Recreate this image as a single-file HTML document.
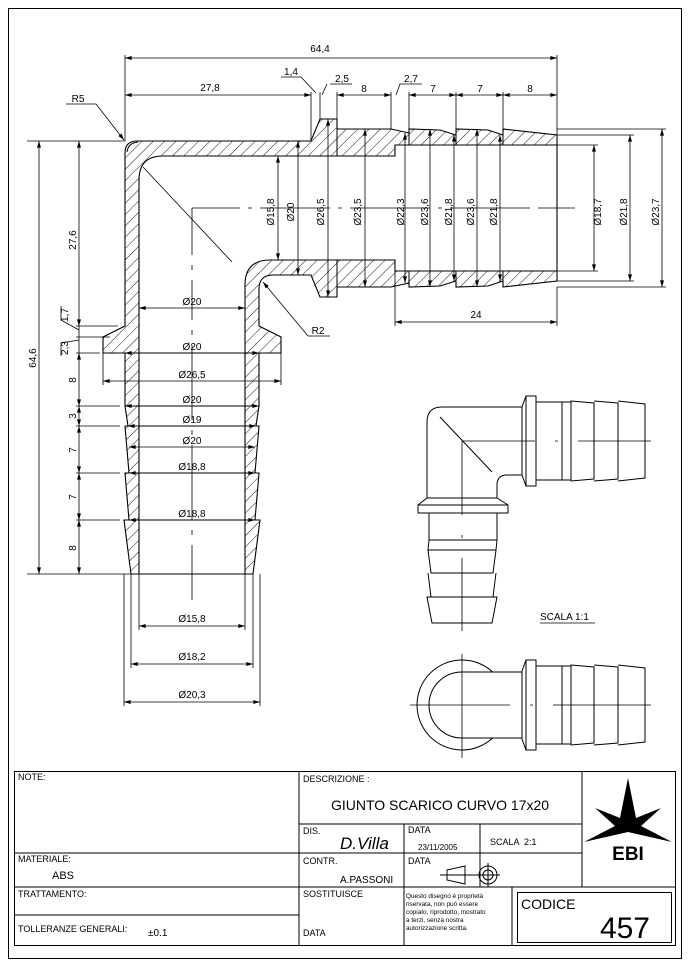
<!DOCTYPE html>
<html><head><meta charset="utf-8"><style>
html,body{margin:0;padding:0;background:#fff}
svg{display:block}
text{font-family:"Liberation Sans",sans-serif;fill:#000}
</style></head><body>
<svg width="690" height="969" viewBox="0 0 690 969" xmlns="http://www.w3.org/2000/svg">
<defs>
<pattern id="h" patternUnits="userSpaceOnUse" width="8" height="8" patternTransform="rotate(45)">
<line x1="0" y1="0" x2="0" y2="8" stroke="#000" stroke-width="0.9"/>
</pattern>
<marker id="a" viewBox="0 0 10 6" refX="10" refY="3" markerWidth="7" markerHeight="4" orient="auto-start-reverse" markerUnits="userSpaceOnUse">
<path d="M0,0 L10,3 L0,6 Z" fill="#000"/>
</marker>
</defs>
<rect width="690" height="969" fill="#fff"/>
<rect x="8.5" y="8.5" width="673" height="950" fill="none" stroke="#000" stroke-width="1"/>

<path fill="url(#h)" fill-rule="evenodd" stroke="#000" stroke-width="1.1" d="
M125,153 Q125,141 137,141 L311,141 L320,119 L337,119 L337,129 L391,129 L409,133 L409,129 L440,130 L456,135 L456,129 L488,130 L503,135 L503,129 L557,135 L557,281 L503,287 L503,281 L488,286 L456,287 L456,281 L440,286 L409,287 L409,283 L391,287 L337,287 L337,297 L320,297 L311,275 L273,275 Q259,275 259,289 L259,326 L281,337 L281,353 L259,353 L259,406 L256,426 L259,426 L255,473 L259,473 L255,520 L260,520 L253,574 L131,574 L124,520 L129,520 L125,473 L129,473 L125,426 L128,426 L125,406 L125,353 L103,353 L103,337 L125,326 Z
M139,574 L139,180 Q139,156 163,156 L395,156 L395,145 L557,145 L557,271 L395,271 L395,260 L270,260 Q245,260 245,285 L245,574 Z"/>
<g stroke="#000" stroke-width="1" fill="none">
<path d="M409,129V145 M456,129V145 M503,129V145 M409,271V287 M456,271V287 M503,271V287 M337,129V156 M337,260V287"/>
<path d="M125,406H259 M125,426H259 M129,473H255 M129,520H255 M125,353H259"/>
<path d="M127,152 Q128,143 138,142" />
</g>
<g stroke="#000" stroke-width="0.8" fill="none">
<path d="M192,208H240 M248,208H252 M260,208H330 M338,208H342 M350,208H430 M438,208H442 M450,208H530 M538,208H575"/>
<path d="M192,208V255 M192,265V270 M192,280V320 M192,330V335 M192,345V420 M192,430V435 M192,445V520 M192,530V535 M192,545V600"/>
<path d="M143,167 L232,262"/>
</g>

<g stroke="#000" stroke-width="0.8" fill="none">
<path d="M125,55V141 M557,55V135 M311,92V141 M320,92V119 M337,92V119 M391,92V129 M409,92V129 M456,92V129 M503,92V129"/>
<path d="M125,58H557" marker-start="url(#a)" marker-end="url(#a)"/>
<path d="M125,95H311" marker-start="url(#a)" marker-end="url(#a)"/>
<path d="M337,95H391" marker-start="url(#a)" marker-end="url(#a)"/>
<path d="M409,95H456" marker-start="url(#a)" marker-end="url(#a)"/>
<path d="M456,95H503" marker-start="url(#a)" marker-end="url(#a)"/>
<path d="M503,95H557" marker-start="url(#a)" marker-end="url(#a)"/>
<path d="M281,77H301 L316,93 M330,84H352 M327,84 L322,95 M400,84H422 M400,84 L396,95"/>
<path d="M66,104H96 L124,140" marker-end="url(#a)"/>
<path d="M330,336H308 L263,282" marker-end="url(#a)"/>
</g>
<g font-size="10" text-anchor="middle">
<text x="320" y="52">64,4</text>
<text x="210" y="91">27,8</text>
<text x="291" y="75">1,4</text>
<text x="342" y="82">2,5</text>
<text x="364" y="92">8</text>
<text x="411" y="82">2,7</text>
<text x="433" y="92">7</text>
<text x="480" y="92">7</text>
<text x="530" y="92">8</text>
<text x="78" y="102">R5</text>
<text x="318" y="334">R2</text>
<text x="476" y="318">24</text>
</g>
<g stroke="#000" stroke-width="0.8" fill="none">
<path d="M278,156V260" marker-start="url(#a)" marker-end="url(#a)"/>
<path d="M298,141V275" marker-start="url(#a)" marker-end="url(#a)"/>
<path d="M328,119V297" marker-start="url(#a)" marker-end="url(#a)"/>
<path d="M365,129V287" marker-start="url(#a)" marker-end="url(#a)"/>
<path d="M405,133V283" marker-start="url(#a)" marker-end="url(#a)"/>
<path d="M430,129V287" marker-start="url(#a)" marker-end="url(#a)"/>
<path d="M454,135V281" marker-start="url(#a)" marker-end="url(#a)"/>
<path d="M477,129V287" marker-start="url(#a)" marker-end="url(#a)"/>
<path d="M500,135V281" marker-start="url(#a)" marker-end="url(#a)"/>
<path d="M557,145H598 M557,271H598 M557,135H634 M557,281H634 M557,129H666 M557,287H666"/>
<path d="M594,145V271" marker-start="url(#a)" marker-end="url(#a)"/>
<path d="M630,135V281" marker-start="url(#a)" marker-end="url(#a)"/>
<path d="M662,129V287" marker-start="url(#a)" marker-end="url(#a)"/>
<path d="M395,271V326 M557,287V326"/>
<path d="M395,322H557" marker-start="url(#a)" marker-end="url(#a)"/>
</g>
<g font-size="10" text-anchor="middle">
<text transform="translate(274,212) rotate(-90)">Ø15,8</text>
<text transform="translate(294,212) rotate(-90)">Ø20</text>
<text transform="translate(324,212) rotate(-90)">Ø26,5</text>
<text transform="translate(361,212) rotate(-90)">Ø23,5</text>
<text transform="translate(404,212) rotate(-90)">Ø22,3</text>
<text transform="translate(428,212) rotate(-90)">Ø23,6</text>
<text transform="translate(452,212) rotate(-90)">Ø21,8</text>
<text transform="translate(474,212) rotate(-90)">Ø23,6</text>
<text transform="translate(497,212) rotate(-90)">Ø21,8</text>
<text transform="translate(601,212) rotate(-90)">Ø18,7</text>
<text transform="translate(627,212) rotate(-90)">Ø21,8</text>
<text transform="translate(659,212) rotate(-90)">Ø23,7</text>
</g>

<g stroke="#000" stroke-width="0.8" fill="none">
<path d="M139,308H245" marker-start="url(#a)" marker-end="url(#a)"/>
<path d="M125,353H259" marker-start="url(#a)" marker-end="url(#a)"/>
<path d="M103,353V385 M281,353V385"/>
<path d="M103,381H281" marker-start="url(#a)" marker-end="url(#a)"/>
<path d="M125,406H259" marker-start="url(#a)" marker-end="url(#a)"/>
<path d="M128,426H256" marker-start="url(#a)" marker-end="url(#a)"/>
<path d="M129,447H255" marker-start="url(#a)" marker-end="url(#a)"/>
<path d="M129,473H255" marker-start="url(#a)" marker-end="url(#a)"/>
<path d="M129,520H255" marker-start="url(#a)" marker-end="url(#a)"/>
<path d="M139,574V630 M245,574V630 M131,574V668 M253,574V668 M124,574V706 M260,574V706"/>
<path d="M139,626H245" marker-start="url(#a)" marker-end="url(#a)"/>
<path d="M131,664H253" marker-start="url(#a)" marker-end="url(#a)"/>
<path d="M124,702H260" marker-start="url(#a)" marker-end="url(#a)"/>
<path d="M27,141H125 M27,574H131 M76,326H118 M76,337H110 M76,353H100 M76,406H120 M76,426H120 M76,473H120 M76,520H120"/>
<path d="M39,141V574" marker-start="url(#a)" marker-end="url(#a)"/>
<path d="M79,141V326" marker-start="url(#a)" marker-end="url(#a)"/>
<path d="M79,353V406" marker-start="url(#a)" marker-end="url(#a)"/>
<path d="M79,406V426" marker-start="url(#a)" marker-end="url(#a)"/>
<path d="M79,426V473" marker-start="url(#a)" marker-end="url(#a)"/>
<path d="M79,473V520" marker-start="url(#a)" marker-end="url(#a)"/>
<path d="M79,520V574" marker-start="url(#a)" marker-end="url(#a)"/>
<path d="M61,306V320 L79,330 M61,356V343 L79,340 M79,326V353"/>
</g>
<g font-size="10" text-anchor="middle">
<text x="192" y="305">Ø20</text>
<text x="192" y="350">Ø20</text>
<text x="192" y="378">Ø26,5</text>
<text x="192" y="403">Ø20</text>
<text x="192" y="423">Ø19</text>
<text x="192" y="444">Ø20</text>
<text x="192" y="470">Ø18,8</text>
<text x="192" y="517">Ø18,8</text>
<text x="192" y="622">Ø15,8</text>
<text x="192" y="660">Ø18,2</text>
<text x="192" y="698">Ø20,3</text>
<text transform="translate(36,358) rotate(-90)">64,6</text>
<text transform="translate(76,240) rotate(-90)">27,6</text>
<text transform="translate(68,315) rotate(-90)">1,7</text>
<text transform="translate(68,348) rotate(-90)">2,3</text>
<text transform="translate(76,380) rotate(-90)">8</text>
<text transform="translate(76,416) rotate(-90)">3</text>
<text transform="translate(76,450) rotate(-90)">7</text>
<text transform="translate(76,497) rotate(-90)">7</text>
<text transform="translate(76,548) rotate(-90)">8</text>
</g>

<!-- view A -->
<g stroke="#000" stroke-width="1" fill="none">
<path d="M522,407 H442 Q427,407 427,422 V498 M497,498 V485 Q497,475 507,475 H522"/>
<path d="M522,407 L526,396 H536 V486 H526 L522,475 Z M526,396 V486"/>
<path d="M536,402 H571 M536,480 H571"/>
<path d="M562,402 V480 M571,401 L594,403 V479 L571,481 Z M594,401 L618,403 V479 L594,481 M618,401 L645,404 V478 L618,481"/>
<path d="M427,498 H497 L508,505 V513 H418 V505 Z M418,505 H508"/>
<path d="M429,513 V540 H497 V513 M429,540 L428,550 H496 L497,540 M428,550 L431,573 H493 L496,550 M428,573 L431,597 H493 L496,573 M427,597 L432,623 H492 L497,597 Z"/>
<path d="M440,417 L492,472"/>
</g>
<g stroke="#000" stroke-width="0.8" fill="none">
<path d="M462,441 H535 M555,441 H558 M578,441 H651"/>
<path d="M462,441 V515 M462,535 V538 M462,558 V631"/>
</g>
<text x="540" y="620" font-size="10">SCALA 1:1</text>
<path d="M540,623 H595" stroke="#000" stroke-width="0.8"/>

<!-- view B -->
<g stroke="#000" stroke-width="1" fill="none">
<path d="M492.6,672 A45,45 0 1 0 492.6,738"/>
<path d="M462,672 A33,33 0 0 0 462,738 M462,672 H522 M462,738 H522"/>
<path d="M522,671 L526,660 H536 V750 H526 L522,739 Z M526,660 V750"/>
<path d="M536,666 H571 M536,744 H571 M562,666 V744"/>
<path d="M571,665 L594,667 V743 L571,745 Z M594,665 L618,667 V743 L594,745 M618,665 L645,668 V742 L618,745"/>
</g>
<g stroke="#000" stroke-width="0.8" fill="none">
<path d="M410,705 H510 M530,705 H533 M553,705 H651"/>
<path d="M462,654 V758"/>
</g>

<!-- title block -->
<g stroke="#000" stroke-width="1" fill="none">
<rect x="14.5" y="771.5" width="661" height="174"/>
<path d="M299,771V945 M582,771V887 M299,824H582 M14,853H582 M14,887H676 M14,915H299 M404,824V945 M480,824V887 M512,887V945"/>
<rect x="517.5" y="892.5" width="154" height="50"/>
<path d="M465,866 L447,870 V880 L465,884 Z M440,875 H500"/>
<circle cx="488" cy="875" r="9"/><circle cx="488" cy="875" r="5"/>
<path d="M488,863V887"/>
</g>
<path fill="#000" d="M628,778 L636,818 L661,808 L641,826 L672,842 L628,832 L584,842 L615,826 L595,808 L620,818 Z"/>
<text x="628" y="860" font-size="19" font-weight="bold" text-anchor="middle">EBI</text>
<g font-size="9">
<text x="18" y="780">NOTE:</text>
<text x="303" y="782">DESCRIZIONE :</text>
<text x="303" y="834">DIS.</text>
<text x="408" y="833">DATA</text>
<text x="418" y="850" font-size="8">23/11/2005</text>
<text x="490" y="845">SCALA &#160;2:1</text>
<text x="18" y="862">MATERIALE:</text>
<text x="52" y="879" font-size="11">ABS</text>
<text x="303" y="864">CONTR.</text>
<text x="340" y="883" font-size="10">A.PASSONI</text>
<text x="408" y="864">DATA</text>
<text x="18" y="897">TRATTAMENTO:</text>
<text x="303" y="897">SOSTITUISCE</text>
<text x="18" y="932">TOLLERANZE GENERALI:</text>
<text x="148" y="936" font-size="10">±0.1</text>
<text x="303" y="936">DATA</text>
</g>
<text x="440" y="810" font-size="14" text-anchor="middle">GIUNTO SCARICO CURVO 17x20</text>
<text x="340" y="849" font-size="17" font-style="italic" font-family="Liberation Serif, serif">D.Villa</text>
<g font-size="6.4">
<text x="406" y="898">Questo disegno è proprietà</text>
<text x="406" y="906">riservata, non può essere</text>
<text x="406" y="914">copiato, riprodotto, mostrato</text>
<text x="406" y="922">a terzi, senza nostra</text>
<text x="406" y="930">autorizzazione scritta.</text>
</g>
<text x="521" y="909" font-size="14">CODICE</text>
<text x="650" y="938" font-size="30" text-anchor="end">457</text>
</svg>
</body></html>
